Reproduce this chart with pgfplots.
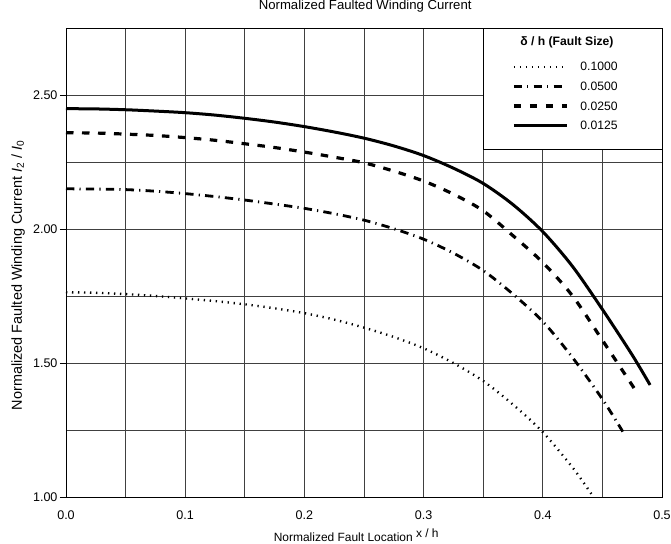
\documentclass[border=0pt]{standalone}
\usepackage{fontspec}
\setmainfont{Liberation Sans}
\usepackage{pgfplots}
\pgfplotsset{compat=1.18}
\begin{document}
\begin{tikzpicture}
\path[use as bounding box] (-66bp,-47bp) rectangle (605bp,497bp);
\begin{axis}[
  at={(0,0)}, anchor=south west,
  scale only axis, width=596bp, height=469bp,
  xmin=0, xmax=0.5, ymin=1, ymax=2.75,
  clip=false,
  xtick={0,0.1,0.2,0.3,0.4,0.5},
  minor xtick={0.05,0.15,0.25,0.35,0.45},
  ytick={1,1.5,2,2.5},
  minor ytick={1.25,1.75,2.25},
  grid=both,
  major grid style={black!75, line width=0.75bp},
  minor grid style={black!75, line width=0.75bp},
  axis line style={black, line width=0.9bp},
  tick align=outside, tick pos=left,
  major tick length=6bp, minor tick length=0pt,
  xtick style={draw=none},
  ytick style={black, line width=0.8bp},
  /pgf/number format/assume math mode=true,
  tick label style={font=\fontsize{12.6}{14}\selectfont},
  x tick label style={/pgf/number format/fixed, /pgf/number format/fixed zerofill, /pgf/number format/precision=1},
  y tick label style={/pgf/number format/fixed, /pgf/number format/fixed zerofill, /pgf/number format/precision=2},
  xticklabel style={yshift=-4bp},
  yticklabel style={xshift=1bp},
  title={Normalized Faulted Winding Current},
  title style={at={(axis description cs:0.502,1.034)}, anchor=center, font=\fontsize{13.2}{15}\selectfont},
  xlabel={Normalized Fault Location \raisebox{4bp}{x / h}},
  xlabel style={at={(axis description cs:0.487,-0.081)}, anchor=center, font=\fontsize{12}{14}\selectfont},
  ylabel={Normalized Faulted Winding Current \textit{I}\textsubscript{2} / \textit{I}\textsubscript{0}},
  ylabel style={at={(axis description cs:-0.0805,0.473)}, anchor=center, font=\fontsize{14.5}{16}\selectfont},
  legend style={at={(axis description cs:0.7483,0.982)}, anchor=north west, draw=none, fill=none,
    inner sep=0pt, row sep=11bp, column sep=12bp,
    nodes={inner sep=0pt, text depth={}}, cells={anchor=west},
    font=\fontsize{12.2}{14}\selectfont},
  legend image code/.code={\draw[#1] (0bp,0bp) -- (53bp,0bp);},
]
\draw[fill=white, line width=0.9bp] (axis cs:0.35,2.75) rectangle (axis cs:0.5,2.2985);

\addlegendimage{empty legend}
\addlegendentry{\makebox[52bp][l]{\hspace*{-60bp}\bfseries δ / h (Fault Size)\rule[-6bp]{0pt}{6bp}}}

\addplot[black, line width=2.4bp, dash pattern=on 1.3bp off 4.7bp, smooth] coordinates {
(0,1.764) (0.025,1.762) (0.05,1.757) (0.075,1.750) (0.1,1.741) (0.125,1.731) (0.15,1.719) (0.175,1.704) (0.2,1.686) (0.225,1.662) (0.25,1.632) (0.275,1.597) (0.3,1.555) (0.325,1.50) (0.35,1.433) (0.375,1.345) (0.4,1.242) (0.425,1.11) (0.441,1.01)};
\addlegendentry{0.1000}

\addplot[black, line width=2.8bp, dash pattern=on 8.3bp off 5.2bp on 1.2bp off 5.2bp, smooth] coordinates {
(0,2.150) (0.025,2.149) (0.05,2.147) (0.075,2.141) (0.1,2.132) (0.125,2.121) (0.15,2.108) (0.175,2.093) (0.2,2.077) (0.225,2.057) (0.25,2.033) (0.275,2.001) (0.3,1.962) (0.325,1.91) (0.35,1.845) (0.375,1.757) (0.4,1.655) (0.425,1.52) (0.45,1.365) (0.4675,1.241)};
\addlegendentry{0.0500}

\addplot[black, line width=3.2bp, dash pattern=on 7.5bp off 8.5bp, smooth] coordinates {
(0,2.359) (0.025,2.358) (0.05,2.354) (0.075,2.349) (0.1,2.341) (0.125,2.331) (0.15,2.318) (0.175,2.304) (0.2,2.287) (0.225,2.268) (0.25,2.247) (0.275,2.216) (0.3,2.179) (0.325,2.13) (0.35,2.068) (0.375,1.975) (0.4,1.875) (0.425,1.75) (0.45,1.585) (0.4775,1.40)};
\addlegendentry{0.0250}

\addplot[black, line width=3bp, smooth] coordinates {
(0,2.449) (0.025,2.448) (0.05,2.445) (0.075,2.440) (0.1,2.434) (0.125,2.425) (0.15,2.413) (0.175,2.399) (0.2,2.382) (0.225,2.362) (0.25,2.339) (0.275,2.310) (0.3,2.274) (0.325,2.227) (0.35,2.170) (0.375,2.091) (0.4,1.990) (0.425,1.86) (0.45,1.70) (0.475,1.53) (0.49,1.418)};
\addlegendentry{0.0125}
\end{axis}
\end{tikzpicture}
\end{document}
